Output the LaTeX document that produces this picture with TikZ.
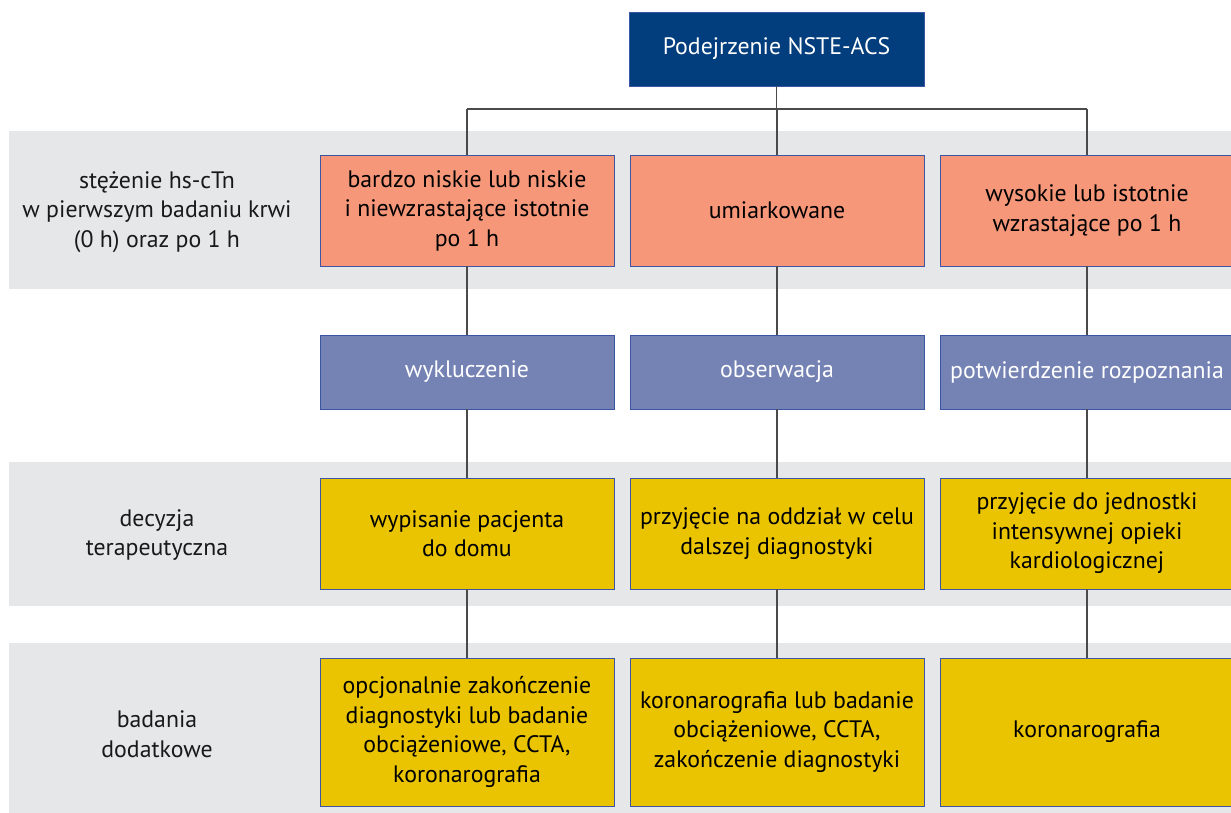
\documentclass[tikz,border=0pt]{standalone}
\usepackage{fontspec}
\setmainfont{PT Sans}
\definecolor{bandgray}{HTML}{E6E7E9}
\definecolor{navy}{HTML}{023D7D}
\definecolor{salmon}{HTML}{F7977A}
\definecolor{slate}{HTML}{7582B4}
\definecolor{gold}{HTML}{EAC400}
\definecolor{edgeblue}{HTML}{3D55A5}
\definecolor{linegray}{HTML}{4A4A4A}
\begin{document}
\begin{tikzpicture}[x=1pt,y=-1pt,
  every node/.style={font=\fontsize{23.8}{29.5}\selectfont, align=center, inner sep=0pt},
  box/.style={draw=edgeblue, line width=0.9pt, minimum width=294pt},
  rowA/.style={box, fill=salmon, minimum height=111pt},
  rowB/.style={box, fill=slate, text=white, minimum height=74pt},
  rowC/.style={box, fill=gold, minimum height=111pt},
  rowD/.style={box, fill=gold, minimum height=148pt},
  conn/.style={draw=linegray, line width=1.4pt},
  lbl/.style={text=black!90}]
\useasboundingbox (0,0) rectangle (1231,813);
% bands
\fill[bandgray] (9,131) rectangle (1240,289);
\fill[bandgray] (9,462) rectangle (1240,606);
\fill[bandgray] (9,643) rectangle (1240,820);
% top
\node[box, fill=navy, text=white, minimum width=295pt, minimum height=74pt] (top) at (776.5,49) {Podejrzenie NSTE-ACS};
% row labels
\node[lbl] (l1) at (157,212) {stężenie hs-cTn\\w pierwszym badaniu krwi\\(0 h) oraz po 1 h};
\node[lbl] (l2) at (157,535) {decyzja\\terapeutyczna};
\node[lbl] (l3) at (157,734) {badania\\dodatkowe};
% row A
\node[rowA] (a1) at (467,210.5) {bardzo niskie lub niskie\\i niewzrastające istotnie\\po 1 h};
\node[rowA] (a2) at (777,210.5) {umiarkowane};
\node[rowA] (a3) at (1087,210.5) {wysokie lub istotnie\\wzrastające po 1 h};
% row B
\node[rowB] (b1) at (467,372) {wykluczenie};
\node[rowB] (b2) at (777,372) {obserwacja};
\node[rowB] (b3) at (1087,372) {potwierdzenie rozpoznania};
% row C
\node[rowC] (c1) at (467,533.5) {wypisanie pacjenta\\do domu};
\node[rowC] (c2) at (777,533.5) {przyjęcie na oddział w celu\\dalszej diagnostyki};
\node[rowC] (c3) at (1087,533.5) {przyjęcie do jednostki\\intensywnej opieki\\kardiologicznej};
% row D
\node[rowD] (d1) at (467,732) {opcjonalnie zakończenie\\diagnostyki lub badanie\\obciążeniowe, CCTA,\\koronarografia};
\node[rowD] (d2) at (777,732) {koronarografia lub badanie\\obciążeniowe, CCTA,\\zakończenie diagnostyki};
\node[rowD] (d3) at (1087,732) {koronarografia};
% connectors
\coordinate (hb) at (0,109);
\draw[conn] (top.south) -- (top.south |- hb);
\draw[conn] (a1.north |- hb) -- (a3.north |- hb);
\foreach \i in {1,2,3}{
  \draw[conn] (a\i.north |- hb) -- (a\i.north);
  \draw[conn] (a\i.south) -- (b\i.north);
  \draw[conn] (b\i.south) -- (c\i.north);
  \draw[conn] (c\i.south) -- (d\i.north);
}
\end{tikzpicture}
\end{document}
